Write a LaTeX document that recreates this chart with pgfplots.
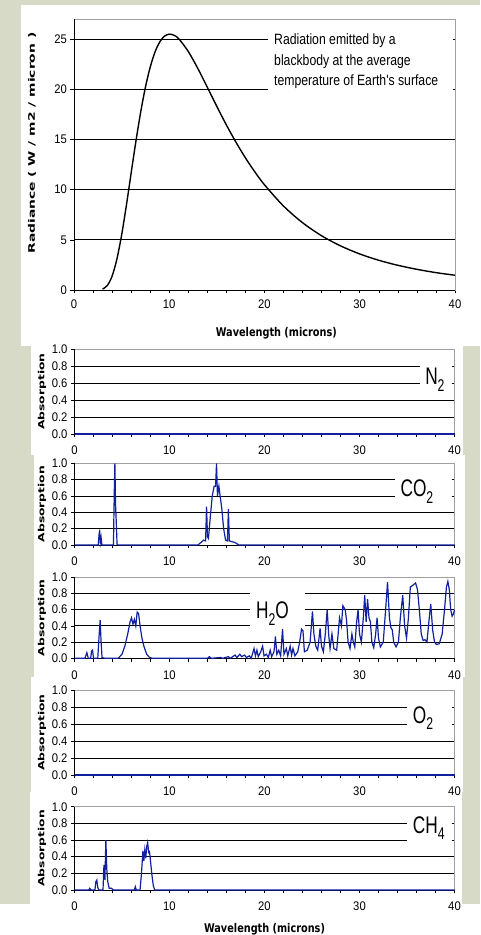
\documentclass[border=0pt]{standalone}
\usepackage{fontspec}
\setmainfont{Liberation Sans}
\newfontfamily\tickfont[FakeStretch=0.9]{Liberation Sans}
\newfontfamily\annfont[FakeStretch=0.82]{Liberation Sans}
\newfontfamily\molfont[FakeStretch=0.72]{Liberation Sans}
\newfontfamily\xlabfont[FakeStretch=0.81]{DejaVu Sans}
\newfontfamily\ylabfont[FakeStretch=1.54]{DejaVu Sans}
\newfontfamily\ylabfontb[FakeStretch=1.45]{DejaVu Sans}
\usepackage{pgfplots}
\pgfplotsset{compat=1.18}
\definecolor{bgc}{RGB}{216,218,200}
\definecolor{absblue}{RGB}{16,32,160}
\definecolor{framegray}{RGB}{160,160,160}

\pgfplotsset{
  common/.style={
    scale only axis, anchor=south west,
    xmin=0, xmax=40,
    xtick={0,10,20,30,40},
    minor x tick num=4,
    tick align=outside,
    xtick pos=left, ytick pos=left,
    major tick length=3.5pt, minor tick length=3.5pt,
    every tick/.style={black, line width=0.6pt},
    axis line style={framegray, line width=0.8pt},
    ymajorgrids,
    major grid style={black, line width=0.8pt},
    ticklabel style={font=\tickfont\fontsize{12.5}{12.5}\selectfont},
    /pgf/number format/assume math mode=true,
    clip=false,
  },
  absstyle/.style={
    common, width=380pt,
    ymin=0, ymax=1,
    ytick={0,0.2,0.4,0.6,0.8,1.0},
    yticklabel style={/pgf/number format/.cd, fixed, fixed zerofill, precision=1, /tikz/.cd},
    xticklabel style={yshift=-5pt},
    ylabel={\ylabfontb\bfseries\fontsize{8.5}{8.5}\selectfont Absorption},
    ylabel style={at={(axis description cs:-0.0855,0.5)}, anchor=center},
  },
}

\newcommand{\blackframe}{\draw[black, line width=0.8pt] (rel axis cs:0,1) -- (rel axis cs:0,0) -- (rel axis cs:1,0);}
\newcommand{\mol}[1]{\molfont\fontsize{24}{24}\selectfont #1}
\newcommand{\sub}[1]{\raisebox{-6.5pt}{\fontsize{17}{17}\selectfont #1}}

\begin{document}
\begin{tikzpicture}[x=1pt,y=1pt]
\useasboundingbox (0,0) rectangle (480,935);
\fill[bgc] (0,0) rectangle (480,935);
\fill[white] (21,589) rectangle (480,930);
\fill[white] (31,480) rectangle (463,589);
\fill[white] (34,365) rectangle (465,480);
\fill[white] (34,258) rectangle (465,365);
\fill[white] (31,143) rectangle (463,258);
\fill[white] (30,31) rectangle (462,143);
\fill[white] (0,0) rectangle (480,31);

% ---------------- Top panel: blackbody radiance
\begin{axis}[common, at={(74pt,645pt)}, width=381pt, height=271pt,
  ymin=0, ymax=27, ytick={0,5,10,15,20,25},
  xticklabel style={yshift=-3pt},
  ylabel={\ylabfont\bfseries\fontsize{9}{9}\selectfont Radiance ( W / m2 / micron )},
  ylabel style={at={(axis description cs:-0.110,0.542)}, anchor=center},
  xlabel={\xlabfont\bfseries\fontsize{12}{12}\selectfont Wavelength (microns)},
  xlabel style={at={(axis description cs:0.531,-0.159)}, anchor=center},
]
\blackframe
\fill[white] (axis cs:20.35,19.4) rectangle (axis cs:39.8,26.4);
\node[anchor=west, align=left, inner sep=0, font=\annfont\fontsize{14.9}{20.7}\selectfont]
  at (axis cs:21.0,22.8) {Radiation emitted by a\\blackbody at the average\\temperature of Earth's surface};
\addplot[black, line width=1.4pt, smooth] coordinates {
(3.0,0.09) (3.5,0.45) (4.0,1.38) (4.5,3.06) (5.0,5.48) (5.5,8.44) (6.0,11.65)
(6.5,14.82) (7.0,17.72) (7.5,20.21) (8.0,22.20) (8.5,23.70) (9.0,24.71)
(9.5,25.29) (10.0,25.49) (10.5,25.38) (11.0,25.03) (12.0,23.76) (13.0,22.07)
(14.0,20.19) (15.0,18.28) (16.0,16.44) (17.0,14.73) (18.0,13.16) (19.0,11.75)
(20.0,10.48) (22.0,8.36) (24.0,6.70) (26.0,5.40) (28.0,4.39) (30.0,3.59)
(32.0,2.96) (34.0,2.46) (36.0,2.06) (38.0,1.73) (40.0,1.47)
};
\end{axis}

% ---------------- N2
\begin{axis}[absstyle, at={(74.5pt,501pt)}, height=84.7pt]
\blackframe
\fill[white] (axis cs:36.37,0.5) rectangle (axis cs:39.74,0.9);
\node[anchor=base west, inner sep=0] at (axis cs:36.9,0.58) {\mol{N\sub{2}}};
\addplot[absblue, line width=1.2pt] coordinates {(0,0) (40,0)};
\end{axis}

% ---------------- CO2
\begin{axis}[absstyle, at={(74.5pt,390pt)}, height=81.7pt]
\blackframe
\fill[white] (axis cs:33.7,0.5) rectangle (axis cs:39.74,0.9);
\node[anchor=base west, inner sep=0] at (axis cs:34.3,0.59) {\mol{CO\sub{2}}};
\addplot[absblue, line width=1.2pt] coordinates {
(0,0) (2.5,0) (2.6,0.15) (2.65,0.17) (2.72,0.03) (2.8,0.09) (2.88,0) (4.1,0)
(4.18,0.6) (4.25,1.0) (4.32,0.5) (4.4,0.27) (4.48,0.01) (4.6,0) (13.0,0)
(13.3,0.03) (13.6,0.06) (13.8,0.05) (13.9,0.47) (14.0,0.1) (14.1,0.08)
(14.3,0.35) (14.5,0.6) (14.7,0.72) (14.85,0.72) (14.95,1.0) (15.05,0.6)
(15.2,0.72) (15.35,0.58) (15.5,0.45) (15.7,0.2) (15.9,0.06) (16.1,0.05)
(16.2,0.44) (16.3,0.05) (16.6,0.04) (16.9,0.03) (17.3,0) (40,0)
};
\end{axis}

% ---------------- H2O
\begin{axis}[absstyle, at={(74.5pt,276.7pt)}, height=81pt]
\blackframe
\fill[white] (axis cs:18.47,0.33) rectangle (axis cs:24.26,0.88);
\node[anchor=base west, inner sep=0] at (axis cs:19.1,0.49) {\mol{H\sub{2}O}};
\addplot[absblue, line width=1.2pt] coordinates {
(0,0) (1.1,0) (1.3,0.07) (1.45,0) (1.7,0) (1.8,0.09) (1.9,0.1) (2.0,0) (2.45,0)
(2.6,0.3) (2.7,0.47) (2.8,0.2) (2.9,0.01) (3.2,0) (4.6,0) (5.0,0.05) (5.3,0.15)
(5.6,0.3) (5.85,0.45) (6.0,0.5) (6.15,0.42) (6.3,0.48) (6.45,0.4) (6.6,0.57)
(6.75,0.55) (6.9,0.4) (7.1,0.25) (7.3,0.15) (7.6,0.05) (7.9,0.01) (8.2,0)
(14,0) (14.2,0.02) (14.4,0) (15.4,0.01) (15.6,0) (16.2,0.02) (16.4,0)
(16.9,0.04) (17.1,0.01) (17.4,0.05) (17.6,0.02) (17.9,0.04) (18.1,0.01)
(18.4,0.03) (18.6,0.0) (18.9,0.12) (19.05,0.03) (19.2,0.1) (19.35,0.02)
(19.6,0.08) (19.8,0.15) (19.95,0.03) (20.2,0.05) (20.4,0.01) (20.6,0.1)
(20.75,0.02) (21.0,0.08) (21.15,0.27) (21.3,0.05) (21.5,0.1) (21.7,0.03)
(21.9,0.36) (22.05,0.05) (22.3,0.12) (22.45,0.03) (22.7,0.15) (22.85,0.04)
(23.0,0.12) (23.2,0.03) (23.5,0.08) (23.7,0.2) (23.9,0.36) (24.05,0.34)
(24.2,0.08) (24.5,0.1) (24.8,0.2) (25.05,0.58) (25.2,0.3) (25.4,0.15)
(25.6,0.1) (25.85,0.37) (26.0,0.15) (26.2,0.08) (26.4,0.3) (26.6,0.6)
(26.75,0.3) (26.9,0.12) (27.1,0.3) (27.3,0.12) (27.6,0.1) (27.9,0.5)
(28.1,0.4) (28.25,0.65) (28.5,0.6) (28.65,0.45) (28.8,0.2) (29.0,0.12)
(29.2,0.3) (29.35,0.2) (29.5,0.14) (29.7,0.45) (29.85,0.6) (30.0,0.3)
(30.2,0.2) (30.4,0.5) (30.55,0.78) (30.7,0.45) (30.85,0.73) (31.0,0.5)
(31.15,0.45) (31.3,0.2) (31.5,0.13) (31.7,0.3) (31.85,0.5) (32.0,0.25)
(32.2,0.14) (32.5,0.2) (32.75,0.6) (32.95,0.94) (33.15,0.5) (33.3,0.38)
(33.45,0.35) (33.6,0.2) (33.85,0.14) (34.1,0.2) (34.3,0.5) (34.55,0.78)
(34.75,0.4) (34.95,0.25) (35.15,0.5) (35.35,0.88) (35.6,0.9) (35.9,0.93)
(36.1,0.85) (36.3,0.6) (36.5,0.3) (36.7,0.22) (36.9,0.23) (37.1,0.2)
(37.3,0.45) (37.5,0.67) (37.7,0.35) (37.9,0.2) (38.1,0.17) (38.4,0.18)
(38.7,0.3) (38.95,0.6) (39.15,0.88) (39.3,0.95) (39.45,0.85) (39.6,0.6)
(39.75,0.52) (39.9,0.55) (40,0.6)
};
\end{axis}

% ---------------- O2
\begin{axis}[absstyle, at={(74.5pt,160pt)}, height=85pt]
\blackframe
\fill[white] (axis cs:35.0,0.5) rectangle (axis cs:39.74,0.9);
\node[anchor=base west, inner sep=0] at (axis cs:35.6,0.61) {\mol{O\sub{2}}};
\addplot[absblue, line width=1.2pt] coordinates {(0,0) (40,0)};
\end{axis}

% ---------------- CH4
\begin{axis}[absstyle, at={(74.5pt,45pt)}, height=83.3pt,
  xlabel={\xlabfont\bfseries\fontsize{12}{12}\selectfont Wavelength (microns)},
  xlabel style={at={(axis description cs:0.5,-0.468)}, anchor=center},
]
\blackframe
\fill[white] (axis cs:35.0,0.5) rectangle (axis cs:39.74,0.9);
\node[anchor=base west, inner sep=0] at (axis cs:35.6,0.68) {\mol{CH\sub{4}}};
\addplot[absblue, line width=1.2pt] coordinates {
(0,0) (1.5,0) (1.6,0.02) (1.75,0) (2.15,0) (2.25,0.1) (2.35,0.12) (2.45,0.03)
(2.55,0) (3.0,0) (3.1,0.3) (3.2,0.12) (3.3,0.6) (3.4,0.25) (3.5,0.1) (3.65,0.02)
(3.9,0.02) (4.1,0) (6.3,0) (6.4,0.04) (6.5,0) (6.9,0) (7.05,0.2) (7.2,0.47)
(7.3,0.35) (7.4,0.48) (7.5,0.38) (7.6,0.52) (7.7,0.57) (7.8,0.45) (7.9,0.46)
(8.0,0.35) (8.15,0.18) (8.3,0.05) (8.45,0) (40,0)
};
\end{axis}
\end{tikzpicture}
\end{document}
